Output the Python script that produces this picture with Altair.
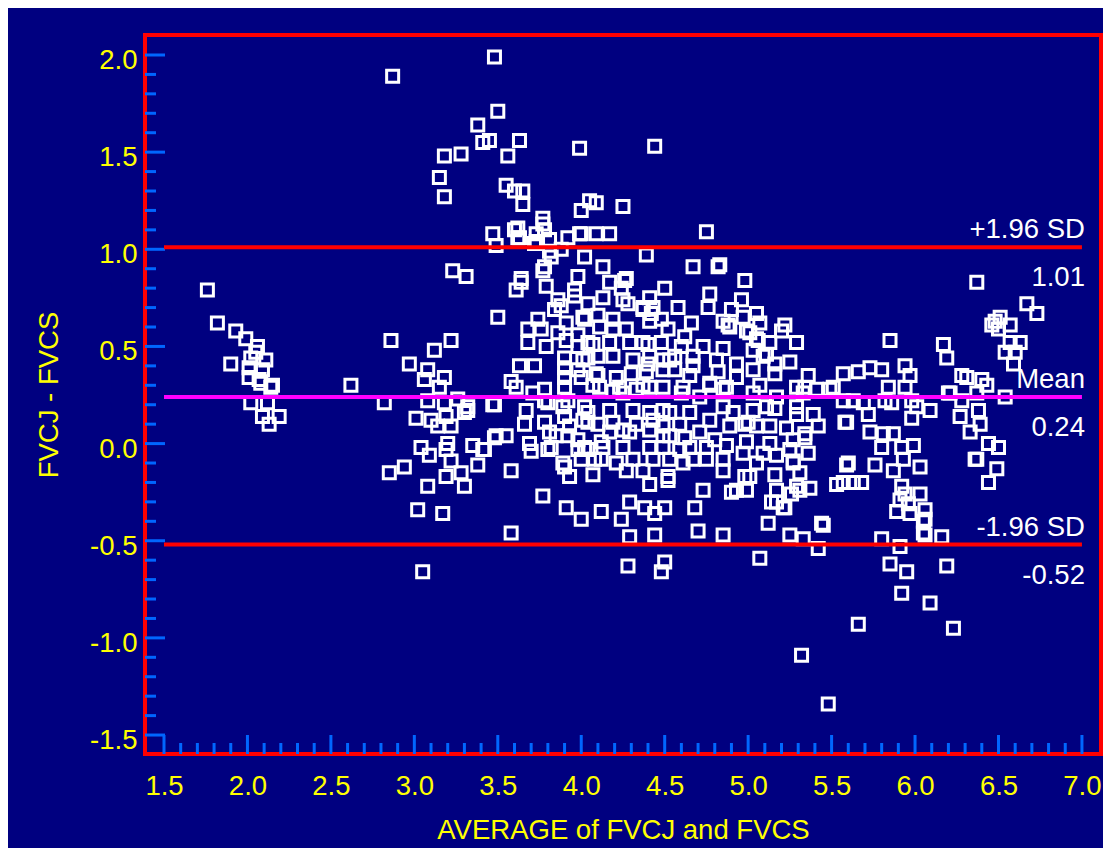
import altair as alt
import pandas as pd

# ---------------- data ----------------
left_group = [
    (1.76, 0.79), (1.82, 0.62), (1.93, 0.58), (1.99, 0.54), (2.06, 0.50), (2.05, 0.47),
    (1.90, 0.41), (2.02, 0.44), (2.11, 0.43), (2.01, 0.39), (2.09, 0.38), (2.01, 0.34),
    (2.08, 0.31), (2.15, 0.30), (2.14, 0.29), (2.02, 0.21), (2.12, 0.21), (2.09, 0.14),
    (2.19, 0.14), (2.13, 0.10), (2.07, 0.33), (2.62, 0.30),
]
mid_left_group = [
    (2.86, 0.53), (3.22, 0.53), (3.12, 0.48), (2.97, 0.41), (3.08, 0.38), (3.06, 0.33),
    (3.18, 0.34), (3.15, 0.29), (3.26, 0.23), (2.82, 0.21), (3.08, 0.22), (3.18, 0.21),
    (3.32, 0.19), (3.48, 0.20), (3.01, 0.13), (3.30, 0.16), (3.14, 0.09), (3.22, 0.09),
    (3.10, 0.12), (3.19, 0.14), (3.04, -0.02), (3.09, -0.06), (3.20, 0.00), (3.19, -0.03),
    (3.35, -0.01), (3.42, -0.03), (3.49, 0.04), (3.22, -0.09), (3.38, -0.11), (3.28, -0.15),
    (2.85, -0.15), (2.94, -0.12), (3.19, -0.17), (3.08, -0.22), (3.30, -0.22), (3.02, -0.34),
    (3.17, -0.36), (3.05, -0.66), (3.23, 0.89), (3.31, 0.86), (3.50, 0.65), (3.32, 0.17),
]
upper_group = [
    (3.48, 1.99), (2.87, 1.89), (3.50, 1.71), (3.38, 1.64), (3.41, 1.55), (3.45, 1.56),
    (3.63, 1.56), (3.56, 1.48), (3.18, 1.48), (3.28, 1.49), (3.15, 1.37), (3.18, 1.27),
    (3.99, 1.52), (4.44, 1.53), (3.55, 1.33), (3.60, 1.30), (3.65, 1.30), (3.65, 1.23),
    (3.77, 1.16), (3.77, 1.13), (4.00, 1.20), (4.05, 1.25), (4.09, 1.24), (4.25, 1.22),
    (3.47, 1.08), (3.60, 1.10), (3.63, 1.06), (3.73, 1.04), (3.78, 1.10), (3.92, 1.06),
    (4.00, 1.08), (4.09, 1.08), (4.17, 1.08), (3.49, 1.02), (3.81, 0.99), (3.88, 1.00),
    (4.39, 0.97), (4.67, 0.91), (4.02, 0.96), (3.78, 0.91), (4.13, 0.91), (3.64, 0.85),
    (3.98, 0.86), (4.27, 0.85), (4.75, 1.09), (4.82, 0.91), (3.62, 1.11), (3.62, 1.06),
    (3.73, 1.08), (3.72, 1.03), (3.81, 1.05), (3.99, 1.08), (3.82, 0.96), (3.77, 0.89),
]
core_group = [
    (3.64, 0.83), (3.61, 0.79), (3.79, 0.81), (4.17, 0.83), (4.26, 0.84), (4.24, 0.80),
    (4.50, 0.80), (4.83, 0.92), (4.98, 0.84), (4.96, 0.74), (4.77, 0.77), (4.76, 0.70),
    (3.86, 0.74), (3.96, 0.76), (3.88, 0.71), (4.04, 0.72), (4.13, 0.75), (4.28, 0.72),
    (4.37, 0.70), (4.41, 0.75), (4.42, 0.67), (3.68, 0.59), (3.76, 0.59), (3.84, 0.69),
    (3.91, 0.62), (4.02, 0.64), (4.10, 0.66), (4.19, 0.64), (4.27, 0.59), (4.41, 0.63),
    (4.52, 0.59), (4.62, 0.55), (4.85, 0.63), (4.97, 0.65), (5.07, 0.62), (4.89, 0.60),
    (5.01, 0.57), (5.20, 0.58), (5.06, 0.53), (5.29, 0.52), (3.68, 0.52), (3.79, 0.50),
    (3.91, 0.53), (4.04, 0.52), (4.17, 0.52), (4.29, 0.52), (4.40, 0.51), (4.48, 0.52),
    (4.73, 0.50), (4.85, 0.49), (3.90, 0.44), (4.04, 0.44), (4.19, 0.45), (4.31, 0.43),
    (4.41, 0.45), (4.53, 0.43), (4.67, 0.45), (4.81, 0.43), (4.93, 0.41), (5.09, 0.45),
    (5.25, 0.42), (3.90, 0.34), (3.98, 0.38), (4.09, 0.36), (4.21, 0.34), (4.30, 0.36),
    (4.39, 0.37), (4.49, 0.38), (4.56, 0.38), (4.67, 0.40), (4.77, 0.31), (4.93, 0.34),
    (5.03, 0.38), (5.16, 0.36), (5.36, 0.35), (3.90, 0.29), (4.07, 0.30), (4.23, 0.29),
    (4.37, 0.30), (4.49, 0.29), (4.61, 0.29), (4.87, 0.29), (5.07, 0.30), (5.29, 0.29),
    (5.41, 0.28), (3.61, 0.29), (3.47, 0.20), (3.67, 0.17), (3.80, 0.21), (3.92, 0.22),
    (4.04, 0.16), (4.17, 0.17), (4.31, 0.17), (4.41, 0.16), (4.53, 0.16), (4.65, 0.16),
    (4.77, 0.12), (4.91, 0.16), (5.03, 0.17), (5.16, 0.18), (5.29, 0.19), (5.39, 0.15),
    (3.78, 0.11), (3.93, 0.09), (4.04, 0.11), (4.25, 0.07), (4.41, 0.07), (4.59, 0.10),
    (4.89, 0.09), (5.00, 0.11), (5.13, 0.09), (5.34, 0.03), (3.48, 0.03), (3.55, 0.04),
    (3.69, 0.00), (3.82, -0.02), (3.98, 0.02), (4.13, -0.02), (4.25, -0.02), (4.41, -0.02),
    (4.53, 0.04), (4.65, -0.02), (4.75, -0.02), (4.87, -0.01), (4.97, -0.05), (5.13, 0.00),
    (5.27, -0.10), (3.41, -0.03), (3.58, -0.14), (3.90, -0.12), (4.08, -0.08), (4.21, -0.10),
    (4.37, -0.14), (4.52, -0.17), (4.67, -0.08), (4.85, -0.14), (5.01, -0.17), (5.16, -0.16),
    (5.29, -0.22), (3.93, -0.17), (4.07, -0.16), (4.41, -0.21), (4.73, -0.24), (4.93, -0.24),
    (5.17, -0.24), (3.77, -0.27), (3.91, -0.33), (4.00, -0.39), (4.12, -0.35), (4.24, -0.39),
    (4.29, -0.30), (4.44, -0.36), (4.68, -0.33), (5.21, -0.33), (5.12, -0.41), (3.58, -0.46),
    (4.29, -0.48), (4.44, -0.47), (4.70, -0.45), (4.85, -0.47), (5.25, -0.47), (5.44, -0.41),
]
core_extra = [
    (3.90, 0.39), (4.01, 0.65), (4.25, 0.74), (4.10, 0.45), (4.01, 0.43), (4.37, 0.69),
    (4.10, 0.35), (3.78, 0.22), (3.90, 0.14), (4.01, 0.12), (3.92, 0.04), (4.12, 0.01),
    (4.17, 0.06), (4.29, 0.06), (3.81, 0.06), (3.70, -0.04), (3.89, -0.10), (4.12, -0.08),
    (4.31, -0.08), (4.43, -0.08), (3.58, 0.32), (3.78, 0.28), (4.19, 0.27), (4.25, 0.26),
    (3.98, 0.56), (3.96, 0.79), (4.90, 0.69), (5.05, 0.67), (4.88, 0.61), (4.99, 0.58),
    (5.05, 0.54), (5.22, 0.61), (5.11, 0.46), (5.57, 0.36), (4.77, 0.30), (5.51, 0.29),
    (4.98, 0.10), (5.11, 0.19), (5.58, 0.11), (4.53, -0.08), (4.75, -0.08), (5.17, -0.06),
    (5.27, -0.09), (5.60, -0.10), (4.50, -0.33), (4.38, -0.33), (4.28, -0.63), (4.50, -0.61),
    (4.48, -0.66), (4.90, -0.25), (4.99, -0.24), (5.07, -0.59), (5.32, -1.09), (5.22, -0.33),
    (5.17, -0.30), (4.52, -0.19),
]
core_dense = [
    (4.43, 0.70), (4.11, 0.60), (4.19, 0.59), (4.48, 0.64), (3.98, 0.50), (4.07, 0.51),
    (4.37, 0.52), (4.40, 0.41), (4.49, 0.43), (4.00, 0.34), (4.11, 0.29), (4.33, 0.28),
    (4.41, 0.29), (3.89, 0.19), (4.02, 0.19), (4.49, 0.17), (3.66, 0.10), (4.10, 0.10),
    (4.19, 0.11), (4.33, 0.10), (4.43, 0.12), (4.02, -0.02), (4.49, 0.04), (3.80, -0.03),
    (4.00, -0.08), (4.60, 0.26), (4.71, 0.24), (4.85, 0.28), (5.03, 0.26), (5.17, 0.24),
    (5.33, 0.26), (4.65, 0.35), (4.82, 0.37), (4.56, 0.45), (5.03, 0.48), (5.16, 0.41),
    (4.85, 0.19), (4.49, 0.09), (4.71, 0.06), (5.05, 0.09), (5.23, 0.08), (4.49, -0.02),
    (4.99, 0.01), (4.61, -0.10), (4.85, -0.08), (5.05, -0.10), (3.98, -0.03), (4.04, -0.03),
    (4.27, -0.14), (4.59, -0.03), (4.98, -0.17), (5.09, -0.05), (5.31, -0.24), (5.14, -0.30),
    (3.72, 0.40), (3.74, 0.64), (3.86, 0.57), (3.71, 0.26), (3.63, 0.40), (4.58, 0.70),
    (4.66, 0.62), (5.13, 0.52), (4.60, 0.50), (3.85, 0.04), (4.62, 0.03), (4.80, 0.02),
]
right_group = [
    (5.85, 0.53), (6.17, 0.51), (6.19, 0.44), (5.66, 0.37), (5.73, 0.39), (5.80, 0.38),
    (5.94, 0.40), (5.97, 0.35), (5.94, 0.29), (5.84, 0.29), (5.82, 0.22), (5.57, 0.22),
    (5.49, 0.28), (5.34, 0.29), (5.63, 0.22), (5.69, 0.21), (5.86, 0.21), (5.98, 0.22),
    (6.01, 0.19), (6.09, 0.17), (5.98, 0.13), (5.59, 0.11), (5.72, 0.15), (6.31, 0.34),
    (6.40, 0.33), (6.21, 0.26), (6.28, 0.22), (6.38, 0.17), (6.54, 0.24), (6.27, 0.14),
    (6.39, 0.10), (6.33, 0.06), (6.44, 0.00), (6.50, -0.02), (6.37, -0.08), (6.49, -0.13),
    (6.44, -0.20), (5.73, 0.06), (5.81, 0.05), (5.87, 0.05), (5.80, -0.02), (5.92, -0.02),
    (5.99, -0.01), (5.93, -0.08), (6.03, -0.12), (5.87, -0.14), (5.76, -0.11), (5.59, -0.11),
    (5.53, -0.21), (5.68, -0.20), (5.92, -0.22), (5.94, -0.26), (6.03, -0.26), (5.91, -0.29),
    (5.96, -0.31), (6.06, -0.34), (5.89, -0.35), (5.97, -0.36), (6.05, -0.40), (6.06, -0.47),
    (6.16, -0.48), (5.80, -0.49), (5.91, -0.53), (5.85, -0.62), (5.95, -0.66), (6.19, -0.63),
    (5.92, -0.77), (6.09, -0.82), (6.23, -0.95), (5.66, -0.93), (5.48, -1.34), (5.45, -0.42),
    (5.42, -0.54), (5.33, -0.49), (5.26, -0.26), (5.37, -0.23), (5.31, -0.15), (5.36, -0.05),
    (5.25, -0.03), (5.27, 0.02), (5.34, 0.05), (5.29, 0.15), (5.42, 0.09), (5.57, -0.20),
    (5.63, -0.20), (6.06, -0.39), (6.05, -0.46), (6.20, 0.26),
    (6.37, 0.83), (6.67, 0.72), (6.73, 0.67), (6.48, 0.63), (6.51, 0.65), (6.46, 0.61),
    (6.57, 0.61), (6.50, 0.59), (6.63, 0.52), (6.57, 0.52), (6.54, 0.47), (6.59, 0.41),
    (6.60, 0.47), (6.43, 0.30), (6.28, 0.35), (6.37, 0.26), (6.36, -0.08),
]

line_values = [1.01, 0.24, -0.52]
line_colors = ["#FF0000", "#FF00FF", "#FF0000"]
upper_labels = ["+1.96 SD", "Mean", "-1.96 SD"]
lower_labels = ["1.01", "0.24", "-0.52"]
line_x_start = 1.5
line_x_end = 7.0

x_major = [1.5, 2.0, 2.5, 3.0, 3.5, 4.0, 4.5, 5.0, 5.5, 6.0, 6.5, 7.0]
y_major = [-1.5, -1.0, -0.5, 0.0, 0.5, 1.0, 1.5, 2.0]
x_minor = [round(1.5 + 0.1 * i, 1) for i in range(56) if i % 5 != 0]
y_minor = [round(-1.5 + 0.1 * i, 1) for i in range(36) if i % 5 != 0]

X_TITLE = "AVERAGE of FVCJ and FVCS"
Y_TITLE = "FVCJ - FVCS"

# ---------------- build ----------------
all_pts = (left_group + mid_left_group + upper_group + core_group + core_extra
           + core_dense + right_group)
pts = pd.DataFrame(all_pts, columns=["avg", "diff"])

W, H = 956, 719
FONT = "Liberation Sans"
FS = 27.5
YELLOW = "#FFFF00"
TICK = "#0066FF"

xs = alt.Scale(domain=[1.3862, 7.1142], nice=False, zero=False)
ys = alt.Scale(domain=[-1.5976, 2.1029], nice=False, zero=False)

X_AXIS = alt.Axis(values=x_major, format=".1f", ticks=False, domain=False, grid=False,
                  labelColor=YELLOW, labelFont=FONT, labelFontSize=FS, labelPadding=18,
                  labelFlush=False, labelOverlap=False,
                  titleColor=YELLOW, titleFont=FONT, titleFontSize=FS,
                  titleFontWeight="normal", titlePadding=17)
Y_AXIS = alt.Axis(values=y_major, format=".1f", ticks=False, domain=False, grid=False,
                  labelExpr="replace(datum.label, '\u2212', '-')",
                  labelColor=YELLOW, labelFont=FONT, labelFontSize=FS, labelPadding=8,
                  labelOffset=5.5, labelFlush=False, labelOverlap=False,
                  titleColor=YELLOW, titleFont=FONT, titleFontSize=FS,
                  titleFontWeight="normal", titlePadding=26)


def X(field):
    return alt.X(field, scale=xs, axis=X_AXIS, title=X_TITLE)


def Y(field):
    return alt.Y(field, scale=ys, axis=Y_AXIS, title=Y_TITLE)


points = alt.Chart(pts).mark_point(
    shape="square", filled=False, color="#FFFFFF", size=144, strokeWidth=3, opacity=1
).encode(x=X("avg:Q"), y=Y("diff:Q"))

xmaj = pd.DataFrame({"v": x_major})
xmin = pd.DataFrame({"v": x_minor})
ymaj = pd.DataFrame({"v": y_major})
ymin = pd.DataFrame({"v": y_minor})


def xticks(df, length):
    return alt.Chart(df).mark_rule(color=TICK, strokeWidth=3).encode(
        x=X("v:Q"), y=alt.value(H), y2=alt.value(H - length),
    )


def yticks(df, length):
    return alt.Chart(df).mark_rule(color=TICK, strokeWidth=3).encode(
        y=Y("v:Q"), x=alt.value(0), x2=alt.value(length),
    )


lines_df = pd.DataFrame({
    "y": line_values, "c": line_colors, "up": upper_labels, "lo": lower_labels,
    "x0": [line_x_start] * 3, "x1": [line_x_end] * 3,
})

lines = alt.Chart(lines_df).mark_rule(strokeWidth=4).encode(
    x=X("x0:Q"), x2="x1:Q", y=Y("y:Q"),
    color=alt.Color("c:N", scale=None),
)

up_text = alt.Chart(lines_df).mark_text(
    align="right", baseline="alphabetic", dx=3, dy=-9, color="#FFFFFF", font=FONT, fontSize=FS
).encode(x=X("x1:Q"), y=Y("y:Q"), text="up:N")

lo_text = alt.Chart(lines_df).mark_text(
    align="right", baseline="alphabetic", dx=3, dy=39, color="#FFFFFF", font=FONT, fontSize=FS
).encode(x=X("x1:Q"), y=Y("y:Q"), text="lo:N")

chart = alt.layer(
    points, xticks(xmaj, 19), xticks(xmin, 11), yticks(ymaj, 20), yticks(ymin, 11),
    lines, up_text, lo_text,
).properties(
    width=W, height=H,
    autosize=alt.AutoSizeParams(type="none"),
    padding={"left": 137, "top": 27, "right": 2, "bottom": 94},
    background="#000080",
).configure_view(
    stroke="#FF0000", strokeWidth=4, fill="#000080"
)

chart.save("out.html", embed_options={"renderer": "svg", "actions": False})
